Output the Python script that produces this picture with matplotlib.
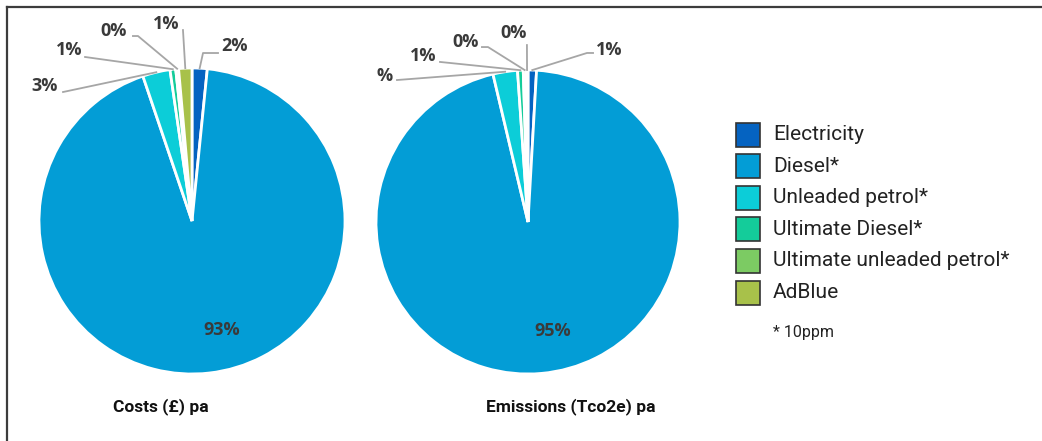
import matplotlib
matplotlib.use("Agg")
import matplotlib.pyplot as plt
import numpy as np
from matplotlib.lines import Line2D
from matplotlib.patches import Rectangle

# ---------------- data ----------------
categories = ["Electricity", "Diesel*", "Unleaded petrol*", "Ultimate Diesel*",
              "Ultimate unleaded petrol*", "AdBlue"]
colors = ["#0563C1", "#039DD6", "#0CCDD8", "#14CC9A", "#7CCB63", "#A8C14A"]
costs_values = [1.6, 93.2, 2.9, 0.6, 0.3, 1.4]
costs_labels = ["2%", "93%", "3%", "1%", "0%", "1%"]
emis_values = [0.9, 95.4, 2.6, 0.6, 0.3, 0.2]
emis_labels = ["1%", "95%", "%", "1%", "0%", "0%"]
titles = ["Costs (£) pa", "Emissions (Tco2e) pa"]
footnote = "* 10ppm"

W, H = 1042, 441
fig = plt.figure(figsize=(W / 100, H / 100), dpi=100)

def fx(px):
    return px / W

def fy(py):
    return 1 - py / H

# frame lines (top and left)
fig.add_artist(Line2D([fx(7), 1], [fy(6.5), fy(6.5)], color="#3c3c3c", lw=1.6))
fig.add_artist(Line2D([fx(7), fx(7)], [fy(6.5), 0], color="#3c3c3c", lw=1.6))

# label layout: (text x, text y, knee x, knee y, stub x or None) in pie-radius units
costs_layout = [
    (0.281, 1.144, 0.072, 1.098, 0.170),   # Electricity
    (0.196, -0.712, None, None, None),     # Diesel (inside)
    (-0.961, 0.882, -0.843, 0.843, None),  # Unleaded
    (-0.804, 1.118, -0.699, 1.072, None),  # Ultimate Diesel
    (-0.510, 1.242, -0.353, 1.209, -0.386),  # Ultimate unleaded
    (-0.170, 1.288, -0.059, 1.248, None),  # AdBlue
]
emis_layout = [
    (0.533, 1.132, 0.388, 1.112, 0.428),
    (0.164, -0.717, None, None, None),
    (-0.941, 0.961, -0.862, 0.934, None),
    (-0.691, 1.092, -0.579, 1.053, None),
    (-0.408, 1.184, -0.263, 1.151, -0.303),
    (-0.092, 1.243, -0.007, 1.164, None),
]

pies = [
    (192, 221, 153, costs_values, costs_labels, costs_layout, 161),
    (528, 222, 152, emis_values, emis_labels, emis_layout, 571),
]

label_font = dict(family=["Open Sans", "DejaVu Sans"], fontweight="bold", fontsize=13,
                  color="#3a3a3a")

for i, (cx, cy, R, vals, labs, layout, tx) in enumerate(pies):
    ax = fig.add_axes([fx(cx - R), fy(cy + R), 2 * R / W, 2 * R / H])
    wedges, _ = ax.pie(vals, colors=colors, startangle=90, counterclock=False,
                       radius=1.0,
                       wedgeprops=dict(edgecolor="white", linewidth=2))
    ax.set_xlim(-1, 1)
    ax.set_ylim(-1, 1)
    ax.axis("off")
    for w, lab, (lx, ly, kx, ky, sx) in zip(wedges, labs, layout):
        ang = np.deg2rad((w.theta1 + w.theta2) / 2)
        ax0, ay0 = np.cos(ang), np.sin(ang)
        if kx is not None:
            xs = [ax0, kx]
            ys = [ay0, ky]
            if sx is not None:
                xs.append(sx)
                ys.append(ky)
            ax.add_line(Line2D(xs, ys, color="#A6A6A6", lw=1.3, clip_on=False,
                               zorder=1))
        ax.text(lx, ly, lab, ha="center", va="center", clip_on=False, **label_font)
    fig.text(fx(tx), fy(407), titles[i], ha="center", va="center",
             family=["Roboto", "DejaVu Sans"], fontweight="bold", fontsize=12.5,
             color="#111111")

# legend
leg_y0 = 134.5
leg_dy = 31.6
for k, (cat, col) in enumerate(zip(categories, colors)):
    yc = leg_y0 + k * leg_dy
    fig.add_artist(Rectangle((fx(736), fy(yc + 12)), 24 / W, 24 / H,
                             facecolor=col, edgecolor="#333333", lw=1.2,
                             transform=fig.transFigure))
    fig.text(fx(773), fy(yc), cat, ha="left", va="center",
             family=["Roboto", "DejaVu Sans"], fontsize=15, color="#222222")
fig.text(fx(773), fy(333), footnote, ha="left", va="center",
         family=["Roboto", "DejaVu Sans"], fontsize=11.5, color="#222222")

fig.savefig("out.png", dpi=100, facecolor="white")
